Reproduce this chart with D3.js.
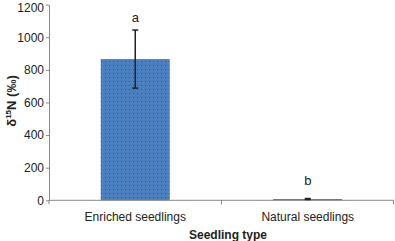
<!DOCTYPE html>
<html>
<head>
<meta charset="utf-8">
<script src="https://cdn.jsdelivr.net/npm/d3@7"></script>
<style>
  body { margin: 0; background: #fff; }
  text { font-family: "Liberation Sans", Arial, sans-serif; }
</style>
</head>
<body>
<script>
// chart data
const categories = ["Enriched seedlings", "Natural seedlings"];
const values = [866, 8];
const errors = [178, 3];
const letters = ["a", "b"];
const yTicks = [0, 200, 400, 600, 800, 1000, 1200];

const width = 395, height = 241;
const margin = { top: 5, right: 1, bottom: 41, left: 49 };

const svg = d3.select("body")
  .append("svg")
  .attr("width", width)
  .attr("height", height);

// dotted fill for the bars
const defs = svg.append("defs");
const pat = defs.append("pattern")
  .attr("id", "dots")
  .attr("patternUnits", "userSpaceOnUse")
  .attr("width", 4)
  .attr("height", 4);
pat.append("rect").attr("width", 4).attr("height", 4).attr("fill", "#4a7fc0");
pat.append("rect").attr("x", 1).attr("y", 1).attr("width", 1).attr("height", 1).attr("fill", "#2e5a92");

const x = d3.scaleBand()
  .domain(categories)
  .range([margin.left, width - margin.right])
  .paddingInner(0.6)
  .paddingOuter(0.3);

const y = d3.scaleLinear()
  .domain([0, 1200])
  .range([200.3, 4.6]);

// y axis
const yAxis = svg.append("g")
  .attr("transform", "translate(" + margin.left + ",0)")
  .call(d3.axisLeft(y).tickValues(yTicks).tickFormat(d3.format("d")).tickSize(3).tickSizeOuter(0));
yAxis.select(".domain").attr("stroke", "#888");
yAxis.selectAll(".tick line").attr("stroke", "#888");
yAxis.selectAll(".tick text")
  .attr("font-size", 12)
  .attr("fill", "#222")
  .attr("x", -5)
  .attr("dy", d => d === 1200 ? "0.6em" : "0.32em");

// bars
svg.selectAll(".bar")
  .data(values)
  .enter()
  .append("rect")
  .attr("class", "bar")
  .attr("x", (d, i) => x(categories[i]))
  .attr("width", x.bandwidth())
  .attr("y", d => y(d))
  .attr("height", d => y(0) - y(d))
  .attr("fill", "url(#dots)");

// x axis
const xAxisG = svg.append("g")
  .attr("transform", "translate(0," + y(0) + ")");
xAxisG.append("line")
  .attr("x1", margin.left).attr("x2", width - margin.right)
  .attr("stroke", "#888");
const edges = [margin.left, margin.left + x.step(), width - margin.right - 0.5];
xAxisG.selectAll(".xt")
  .data(edges)
  .enter()
  .append("line")
  .attr("x1", d => d).attr("x2", d => d)
  .attr("y1", 0).attr("y2", 4)
  .attr("stroke", "#888");
xAxisG.selectAll(".xl")
  .data(categories)
  .enter()
  .append("text")
  .attr("x", d => x(d) + x.bandwidth() / 2)
  .attr("y", 21)
  .attr("text-anchor", "middle")
  .attr("font-size", 12)
  .attr("fill", "#222")
  .text(d => d);

// error bars
const err = svg.selectAll(".err")
  .data(values)
  .enter()
  .append("g")
  .attr("transform", (d, i) => "translate(" + (x(categories[i]) + x.bandwidth() / 2) + ",0)");
err.append("line")
  .attr("y1", (d, i) => y(d + errors[i]))
  .attr("y2", (d, i) => y(d - errors[i]))
  .attr("stroke", "#222")
  .attr("stroke-width", 1.5);
err.append("line")
  .attr("x1", -3).attr("x2", 3)
  .attr("y1", (d, i) => y(d + errors[i]))
  .attr("y2", (d, i) => y(d + errors[i]))
  .attr("stroke", "#222").attr("stroke-width", 1.5);
err.append("line")
  .attr("x1", -3).attr("x2", 3)
  .attr("y1", (d, i) => y(d - errors[i]))
  .attr("y2", (d, i) => y(d - errors[i]))
  .attr("stroke", "#222").attr("stroke-width", 1.5);

// significance letters (the small bar's letter sits a bit higher)
err.append("text")
  .attr("y", (d, i) => y(d + errors[i]) - (d < 100 ? 14 : 8))
  .attr("text-anchor", "middle")
  .attr("font-size", 13)
  .attr("fill", "#222")
  .text((d, i) => letters[i]);

// axis titles
svg.append("text")
  .attr("x", 228)
  .attr("y", 239)
  .attr("text-anchor", "middle")
  .attr("font-size", 12)
  .attr("font-weight", "bold")
  .attr("fill", "#222")
  .text("Seedling type");

const yl = svg.append("text")
  .attr("transform", "translate(16,101) rotate(-90)")
  .attr("text-anchor", "middle")
  .attr("font-size", 13)
  .attr("font-weight", "bold")
  .attr("fill", "#222");
yl.append("tspan").text("δ");
yl.append("tspan").attr("font-size", 8).attr("dy", -5).text("15");
yl.append("tspan").attr("dy", 5).text("N (‰)");
</script>
</body>
</html>
